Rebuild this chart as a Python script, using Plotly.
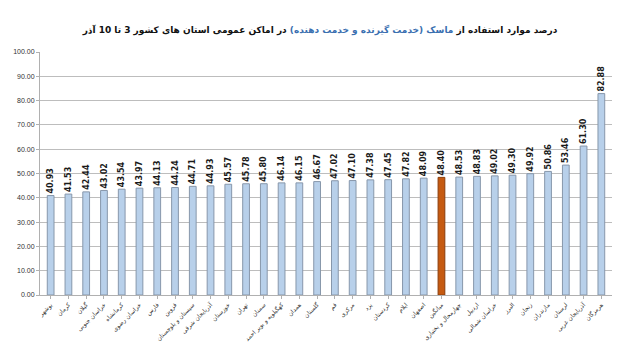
import plotly.graph_objects as go

provinces = ["بوشهر", "کرمان", "گیلان", "خراسان جنوبی", "کرمانشاه", "خراسان رضوی",
             "فارس", "قزوین", "سیستان و بلوچستان", "آذربایجان شرقی", "خوزستان", "تهران",
             "سمنان", "کهگیلویه و بویر احمد", "همدان", "گلستان", "قم", "مرکزی", "یزد",
             "کردستان", "ایلام", "اصفهان", "میانگین", "چهارمحال و بختیاری", "اردبیل",
             "خراسان شمالی", "البرز", "زنجان", "مازندران", "لرستان", "آذربایجان غربی", "هرمزگان"]
values = [40.93, 41.53, 42.44, 43.02, 43.54, 43.97, 44.13, 44.24, 44.71, 44.93, 45.57, 45.78,
          45.80, 46.14, 46.15, 46.67, 47.02, 47.10, 47.38, 47.45, 47.82, 48.09, 48.40, 48.53,
          48.83, 49.02, 49.30, 49.92, 50.86, 53.46, 61.30, 82.88]
highlight = "میانگین"
y_ticks = [0, 10, 20, 30, 40, 50, 60, 70, 80, 90, 100]
y_range = [0, 100]

n = len(provinces)
idx = list(range(n))
x_range = [-0.6, n - 0.4]
colors = ["#c55a11" if p == highlight else "#b8d0ea" for p in provinces]
edges = ["#8a3d0b" if p == highlight else "#8797ab" for p in provinces]

fig = go.Figure(go.Bar(
    x=idx, y=values,
    marker=dict(color=colors, line=dict(color=edges, width=1)),
    width=0.38,
    customdata=provinces, hovertemplate="%{customdata}: %{y:.2f}<extra></extra>",
))

layout_axes = {}
for i, v in enumerate(values):
    k = i + 2
    fig.add_trace(go.Scatter(
        x=[i], y=[v], xaxis=f"x{k}", yaxis="y", mode="markers",
        marker=dict(opacity=0), showlegend=False, hoverinfo="skip",
    ))
    layout_axes[f"xaxis{k}"] = dict(
        overlaying="x", anchor="free",
        position=(v - y_range[0]) / (y_range[1] - y_range[0]),
        side="top", range=x_range,
        tickmode="array", tickvals=[i], ticktext=[f"<b>{v:.2f}</b>"],
        tickangle=-90, ticks="", ticklabelstandoff=2,
        showline=False, showgrid=False, zeroline=False, automargin=False,
        tickfont=dict(family="DejaVu Sans", size=8, color="#1a1a1a"),
    )

fig.update_layout(
    width=640, height=355,
    margin=dict(l=40, r=28, t=52, b=50),
    paper_bgcolor="white", plot_bgcolor="white",
    showlegend=False,
    title=dict(
        text='<b>درصد موارد استفاده از <span style="color:#3a6fb0">ماسک (خدمت گیرنده و خدمت دهنده)</span> در اماکن عمومی استان های کشور 3 تا 10 آذر</b>',
        x=0.5, xanchor="center", y=0.915, yanchor="middle",
        font=dict(family="DejaVu Sans", size=9, color="#111111"),
    ),
    xaxis=dict(
        tickmode="array", tickvals=idx, ticktext=provinces, range=x_range,
        tickangle=-45, tickfont=dict(family="DejaVu Sans", size=6, color="#333333"),
        showline=True, linecolor="#b0b0b0", ticks="outside", ticklen=3, tickcolor="#b0b0b0",
        showgrid=False, zeroline=False,
    ),
    yaxis=dict(
        range=y_range, tickvals=y_ticks, ticktext=[f"{t:.2f}" for t in y_ticks],
        tickfont=dict(family="Liberation Sans", size=7, color="#333333"),
        showgrid=True, gridcolor="#bdbdbd", gridwidth=1,
        showline=True, linecolor="#b0b0b0", ticks="outside", ticklen=3, tickcolor="#b0b0b0",
        zeroline=False,
    ),
    bargap=0.6,
    **layout_axes,
)

fig.write_html("out.html")
